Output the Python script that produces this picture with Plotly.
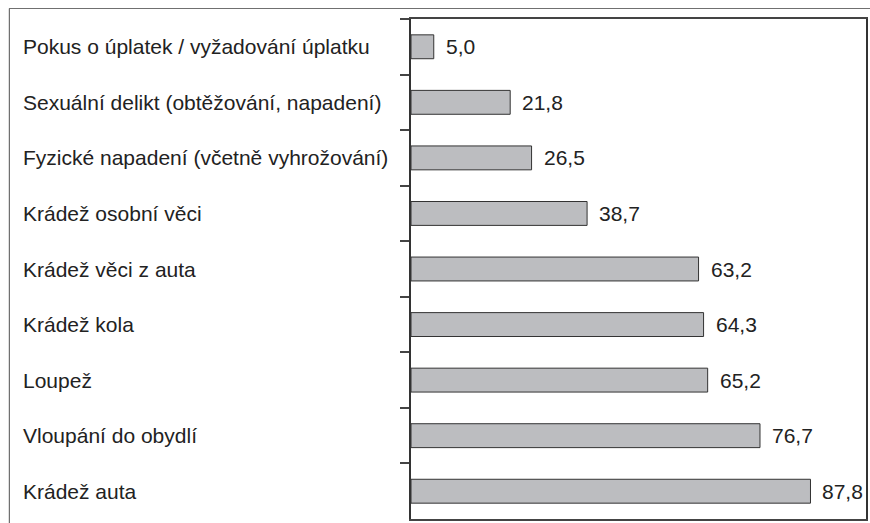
import plotly.graph_objects as go

categories = [
    "Pokus o úplatek / vyžadování úplatku",
    "Sexuální delikt (obtěžování, napadení)",
    "Fyzické napadení (včetně vyhrožování)",
    "Krádež osobní věci",
    "Krádež věci z auta",
    "Krádež kola",
    "Loupež",
    "Vloupání do obydlí",
    "Krádež auta",
]
values = [5.0, 21.8, 26.5, 38.7, 63.2, 64.3, 65.2, 76.7, 87.8]
value_labels = [f"{v:.1f}".replace(".", ",") for v in values]

W, H = 870, 523
L, R, T, B = 411, 2, 19, 4
pw, ph = W - L - R, H - T - B

def px_x(x):
    return (x - L) / pw

def px_y(y):
    return 1 - (y - T) / ph

FONT = "Liberation Sans, Arial, sans-serif"

fig = go.Figure(go.Bar(
    y=categories, x=values, orientation="h", width=0.43,
    marker=dict(color="#bcbdc0", line=dict(color="#333333", width=1)),
    hoverinfo="skip",
))

annotations = []
# outer frame (top and left edges visible; extends past the page)
annotations.append(dict(x=px_x(7), y=px_y(8), xref="paper", yref="paper",
                        xanchor="left", yanchor="top", text=" ", showarrow=False,
                        width=900, height=600, borderwidth=1, borderpad=0,
                        bordercolor="#707070", bgcolor="rgba(0,0,0,0)"))
for c, v, t in zip(categories, values, value_labels):
    annotations.append(dict(x=v, y=c, xref="x", yref="y", text=t, showarrow=False,
                            xanchor="left", xshift=10,
                            font=dict(family=FONT, size=21, color="#222222")))
for c in categories:
    annotations.append(dict(x=px_x(19), y=c, xref="paper", yref="y", text=c,
                            showarrow=False, xanchor="left",
                            font=dict(family=FONT, size=21, color="#222222")))

fig.update_layout(
    width=W, height=H,
    margin=dict(l=L, r=R, t=T, b=B),
    plot_bgcolor="white", paper_bgcolor="white",
    showlegend=False,
    hovermode=False,
    annotations=annotations,
    xaxis=dict(range=[0, 100], showticklabels=False, showgrid=False, zeroline=False,
               ticks="", showline=True, mirror=True, linecolor="#444444", linewidth=1.5),
    yaxis=dict(autorange="reversed", showticklabels=False, showgrid=False,
               ticks="outside", tickson="boundaries", ticklen=9, tickcolor="#444444",
               tickwidth=1.5,
               showline=True, mirror=True, linecolor="#333333", linewidth=1.5),
    shapes=[
        dict(type="line", xref="paper", yref="paper", x0=px_x(7.5), x1=1.3,
             y0=px_y(8.5), y1=px_y(8.5), line=dict(color="#707070", width=1)),
        dict(type="line", xref="paper", yref="paper", x0=px_x(7.5), x1=px_x(7.5),
             y0=px_y(8.5), y1=-0.3, line=dict(color="#707070", width=1)),
    ],
)

fig.write_html("out.html", config={"displayModeBar": False},
               post_script="document.body.style.margin='0';")
